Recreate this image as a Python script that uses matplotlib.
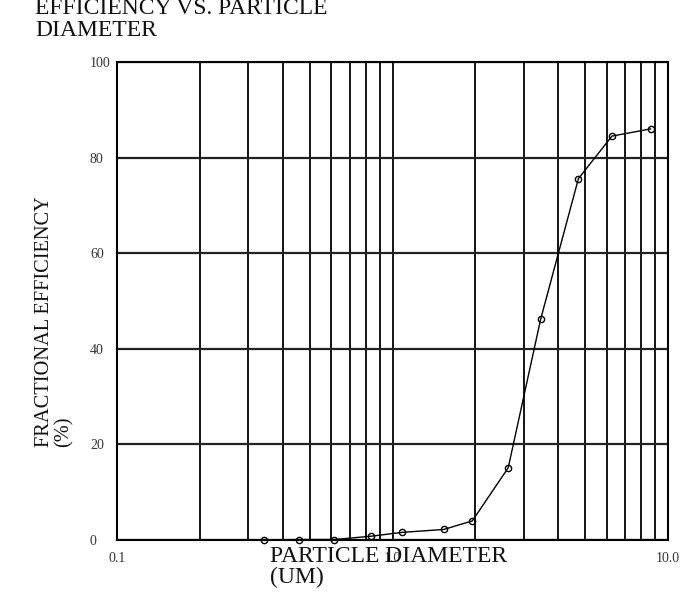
import matplotlib
matplotlib.use("Agg")
import matplotlib.pyplot as plt
from matplotlib.ticker import FixedLocator, NullFormatter

plt.rcParams['font.family'] = ['Liberation Serif', 'DejaVu Serif']

# particle diameter (um) and fractional efficiency (%)
diameter = [0.342, 0.459, 0.615, 0.838, 1.085, 1.534, 1.949, 2.63, 3.45, 4.73, 6.26, 8.64]
efficiency = [0.0, 0.1, 0.1, 0.8, 1.6, 2.2, 4.0, 15.1, 46.2, 75.6, 84.5, 86.0]

x_ticks = [0.1, 1.0, 10.0]
x_ticklabels = ['0.1', '1.0', '10.0']
y_ticks = [0, 20, 40, 60, 80, 100]

fig = plt.figure(figsize=(6.92, 5.92), dpi=100)
ax = fig.add_axes([117 / 692, 1 - 540 / 592, 551 / 692, 478 / 592])

ax.set_xscale('log')
ax.set_xlim(0.1, 10.0)
ax.set_ylim(0, 100)

# grid lines at every 1..9 step of each decade
minor = [m * d for d in (0.1, 1.0) for m in range(2, 10)]
ax.xaxis.set_minor_locator(FixedLocator(minor))
ax.xaxis.set_minor_formatter(NullFormatter())
ax.set_xticks(x_ticks)
ax.set_xticklabels(x_ticklabels)
ax.set_yticks(y_ticks)
ax.set_yticklabels([str(v) for v in y_ticks], ha='left')

ax.grid(True, which='both', axis='x', color='black', lw=1.3)
ax.grid(True, which='major', axis='y', color='#222222', lw=1.6)
ax.set_axisbelow(True)
for s in ax.spines.values():
    s.set_linewidth(1.5)
    s.set_color('black')

ax.tick_params(which='both', length=0)
ax.tick_params(axis='x', labelsize=10, pad=9, colors='#333333')
ax.tick_params(axis='y', labelsize=10, pad=19.5, colors='#333333')

ax.plot(diameter, efficiency, color='black', lw=1.0, marker='o', ms=4.5,
        mfc='none', mec='black', mew=1.0, clip_on=False, zorder=5)

fig.text(35 / 692, 1 - 41 / 592, 'FRACTIONAL\nEFFICIENCY VS. PARTICLE\nDIAMETER',
         ha='left', va='bottom', fontsize=17, linespacing=1.08, color='#111111')
fig.text(54 / 692, 1 - 447 / 592, 'FRACTIONAL EFFICIENCY\n(%)', rotation=90,
         ha='center', va='bottom', multialignment='left', fontsize=14.7, linespacing=1.0,
         color='#111111')
fig.text(270 / 692, 1 - 546 / 592, 'PARTICLE DIAMETER\n(UM)', ha='left', va='top',
         fontsize=17, linespacing=1.02, color='#111111')

fig.savefig('out.png', dpi=100)
